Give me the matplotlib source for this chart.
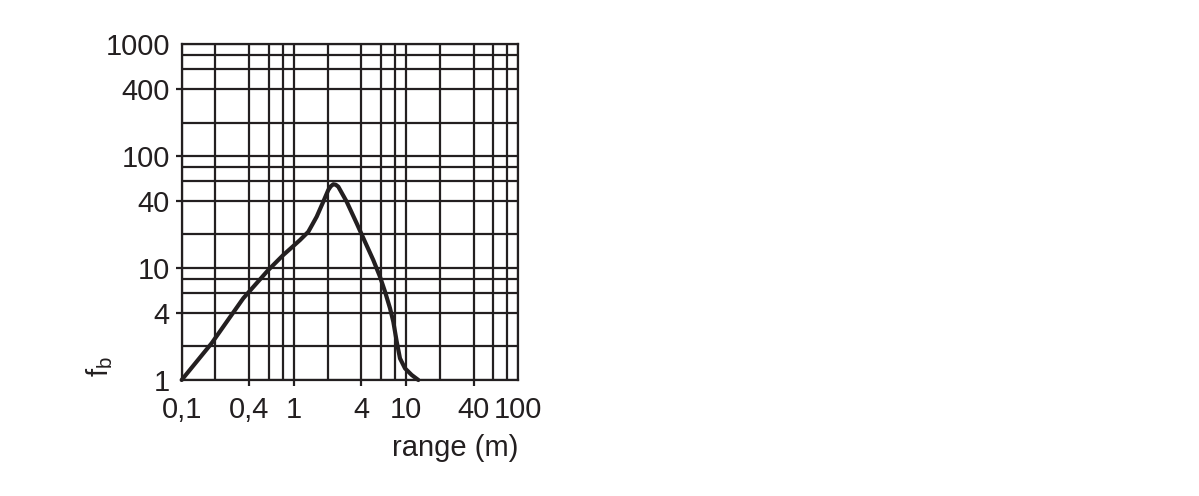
import matplotlib
matplotlib.use('Agg')
import matplotlib.pyplot as plt
from matplotlib.ticker import FixedLocator, NullFormatter

plt.rcParams['font.family'] = ['Liberation Sans', 'DejaVu Sans']
plt.rcParams['mathtext.fontset'] = 'custom'
plt.rcParams['mathtext.rm'] = 'Liberation Sans'

ink = '#231f20'

# curve (range in m, f_b)
range_m = [0.1, 0.185, 0.354, 0.591, 0.805, 0.923, 1.133, 1.344, 1.597, 1.828,
           2.026, 2.13, 2.245, 2.358, 2.487, 2.955, 3.63, 4.30, 5.10, 5.85,
           6.49, 7.19, 7.69, 8.25, 8.82, 9.78, 11.22, 12.85]
fb = [1.0, 2.13, 5.37, 9.6, 13.1, 14.8, 17.8, 21.1, 28.8, 39.2,
      49.9, 53.8, 56.1, 55.6, 53.4, 39.2, 25.1, 17.2, 11.8, 8.38,
      6.15, 4.37, 3.32, 2.20, 1.56, 1.27, 1.108, 1.0]

x_ticks = [0.1, 0.4, 1, 4, 10, 40, 100]
x_labels = ['0,1', '0,4', '1', '4', '10', '40', '100']
y_ticks = [1, 4, 10, 40, 100, 400, 1000]
y_labels = ['1', '4', '10', '40', '100', '400', '1000']

x_grid = [m * d for d in (0.1, 1, 10) for m in (1, 2, 4, 6, 8)] + [100]
y_grid = [m * d for d in (1, 10, 100) for m in (1, 2, 4, 6, 8)] + [1000]

fig = plt.figure(figsize=(11.99, 4.96), dpi=100)
ax = fig.add_axes([0.1515, 0.2339, 0.2808, 0.6768])
ax.set_xscale('log')
ax.set_yscale('log')
ax.set_xlim(0.1, 100)
ax.set_ylim(1, 1000)

ax.xaxis.set_major_locator(FixedLocator(x_ticks))
ax.yaxis.set_major_locator(FixedLocator(y_ticks))
ax.set_xticklabels(x_labels)
ax.set_yticklabels(y_labels)
ax.xaxis.set_minor_locator(FixedLocator(x_grid))
ax.yaxis.set_minor_locator(FixedLocator(y_grid))
ax.xaxis.set_minor_formatter(NullFormatter())
ax.yaxis.set_minor_formatter(NullFormatter())

ax.grid(True, which='both', color=ink, linewidth=1.6)
ax.tick_params(which='major', direction='out', length=4.5, width=1.6,
               color=ink, labelsize=21, labelcolor=ink)
ax.tick_params(axis='x', which='major', pad=7)
ax.tick_params(axis='y', which='major', pad=4)
ax.tick_params(which='minor', length=0)
for t in (ax.xaxis.get_major_ticks()[0], ax.xaxis.get_major_ticks()[-1],
          ax.yaxis.get_major_ticks()[0], ax.yaxis.get_major_ticks()[-1]):
    t.tick1line.set_visible(False)

for s in ax.spines.values():
    s.set_color(ink)
    s.set_linewidth(1.6)

ax.plot(range_m, fb, color=ink, linewidth=3.0, solid_joinstyle='round',
        solid_capstyle='round', clip_on=False, zorder=5)

ax.set_xlabel('range (m)', fontsize=21, color=ink, ha='right')
ax.xaxis.set_label_coords(1.0, -0.16)
ax.xaxis.label.set_va('top')
ax.set_ylabel(r'f$_\mathregular{b}$', fontsize=21, color=ink)
ax.yaxis.label.set_va('center')
ax.yaxis.set_label_coords(-0.243, 0.04)

fig.savefig('out.png', dpi=100)
